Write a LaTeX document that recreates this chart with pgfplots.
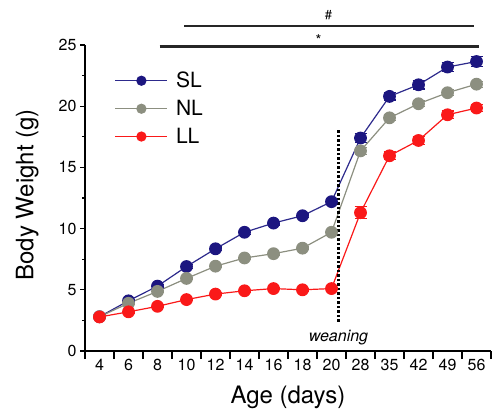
\documentclass[border=0pt]{standalone}
\usepackage{pgfplots}
\pgfplotsset{compat=1.18}
\usepackage{fontspec}
\setmainfont{TeX Gyre Heros}
\definecolor{slc}{RGB}{28,22,128}
\definecolor{sll}{RGB}{45,42,140}
\definecolor{nlc}{RGB}{140,143,128}
\definecolor{llc}{RGB}{250,25,25}
\begin{document}
\begin{tikzpicture}
\path[use as bounding box] (0,0) rectangle (494pt,414pt);
\begin{axis}[
  at={(85pt,63pt)}, anchor=south west,
  scale only axis, width=406pt, height=306pt,
  xmin=-0.5, xmax=13.5, ymin=0, ymax=25,
  clip=false,
  axis x line*=bottom, axis y line*=left,
  axis line style={-, line width=1.3pt},
  tick align=outside,
  xtick={-0.5,0.5,...,13.5},
  xticklabels={4,6,8,10,12,14,16,18,20,28,35,42,49,56,{}},
  xticklabel style={xshift=14.5pt},
  extra x ticks={-0.5,0.5,...,13.5},
  extra x tick labels={},
  extra x tick style={major tick length=8pt},
  ytick={0,5,...,25},
  minor ytick={2.5,7.5,...,22.5},
  major tick length=5pt, minor tick length=3pt,
  tick style={line width=1.1pt, black},
  /pgf/number format/assume math mode=true,
  every tick label/.append style={font=\fontsize{16}{16}\selectfont},
  xlabel={Age (days)}, ylabel={Body Weight (g)},
  label style={font=\fontsize{24}{24}\selectfont},
  xlabel style={at={(axis description cs:0.5,-0.152)}, anchor=center},
  ylabel style={at={(axis description cs:-0.142,0.51)}, anchor=center},
  legend style={draw=none, fill=none, at={(axis description cs:0.068,0.925)}, anchor=north west,
    font=\fontsize{21}{21}\selectfont, row sep=7pt, inner sep=2pt},
  legend cell align=left,
  legend image code/.code={
    \draw[#1, mark=none] (0pt,0pt) -- (52pt,0pt);
    \draw[#1, mark size=4.5pt] plot coordinates {(26pt,0pt)};
    \path (58pt,0pt);
  },
  every axis plot/.append style={line width=1.2pt, mark=*, mark size=5.8pt,
    error bars/y dir=both, error bars/y explicit,
    error bars/error bar style={line width=1.2pt},
    error bars/error mark options={rotate=90, mark size=6pt, line width=1.2pt}},
]
\addplot[color=sll, mark options={fill=slc, draw=slc}, error bars/error bar style={color=slc}] coordinates {
 (0,2.8) +- (0,0.1) (1,4.1) +- (0,0.1) (2,5.3) +- (0,0.15) (3,6.9) +- (0,0.15)
 (4,8.35) +- (0,0.15) (5,9.7) +- (0,0.15) (6,10.45) +- (0,0.15) (7,11.05) +- (0,0.15)
 (8,12.2) +- (0,0.2) (9,17.4) +- (0,0.35) (10,20.8) +- (0,0.3) (11,21.75) +- (0,0.35)
 (12,23.2) +- (0,0.38) (13,23.65) +- (0,0.38)};
\addlegendentry{SL}
\addplot[color=nlc, mark options={fill=nlc, draw=nlc}] coordinates {
 (0,2.8) +- (0,0.1) (1,3.9) +- (0,0.1) (2,4.87) +- (0,0.1) (3,5.93) +- (0,0.1)
 (4,6.93) +- (0,0.1) (5,7.6) +- (0,0.1) (6,7.95) +- (0,0.1) (7,8.4) +- (0,0.1)
 (8,9.7) +- (0,0.15) (9,16.35) +- (0,0.3) (10,19.05) +- (0,0.25) (11,20.2) +- (0,0.25)
 (12,21.1) +- (0,0.25) (13,21.8) +- (0,0.25)};
\addlegendentry{NL}
\addplot[color=llc, mark options={fill=llc, draw=llc}] coordinates {
 (0,2.78) +- (0,0.1) (1,3.2) +- (0,0.1) (2,3.65) +- (0,0.1) (3,4.2) +- (0,0.1)
 (4,4.65) +- (0,0.1) (5,4.92) +- (0,0.1) (6,5.1) +- (0,0.1) (7,5.0) +- (0,0.1)
 (8,5.1) +- (0,0.1) (9,11.3) +- (0,0.5) (10,15.95) +- (0,0.3) (11,17.2) +- (0,0.35)
 (12,19.3) +- (0,0.3) (13,19.85) +- (0,0.3)};
\addlegendentry{LL}
\draw[line width=2.5pt, black, dash pattern=on 2.5pt off 2pt] (axis cs:8.24,2.4) -- (axis cs:8.24,18.05);
\node[font=\itshape\fontsize{16}{16}\selectfont] at (axis cs:8.24,1.1) {weaning};
\draw[line width=2.5pt, black!85] (axis cs:2.93,26.55) -- (axis cs:12.93,26.55);
\draw[line width=2.5pt, black!85] (axis cs:2.07,24.88) -- (axis cs:13.07,24.88);
\node[font=\fontsize{13}{13}\selectfont] at (axis cs:7.9,27.45) {\#};
\node[font=\fontsize{15}{15}\selectfont] at (axis cs:7.55,25.4) {*};
\end{axis}
\end{tikzpicture}
\end{document}
